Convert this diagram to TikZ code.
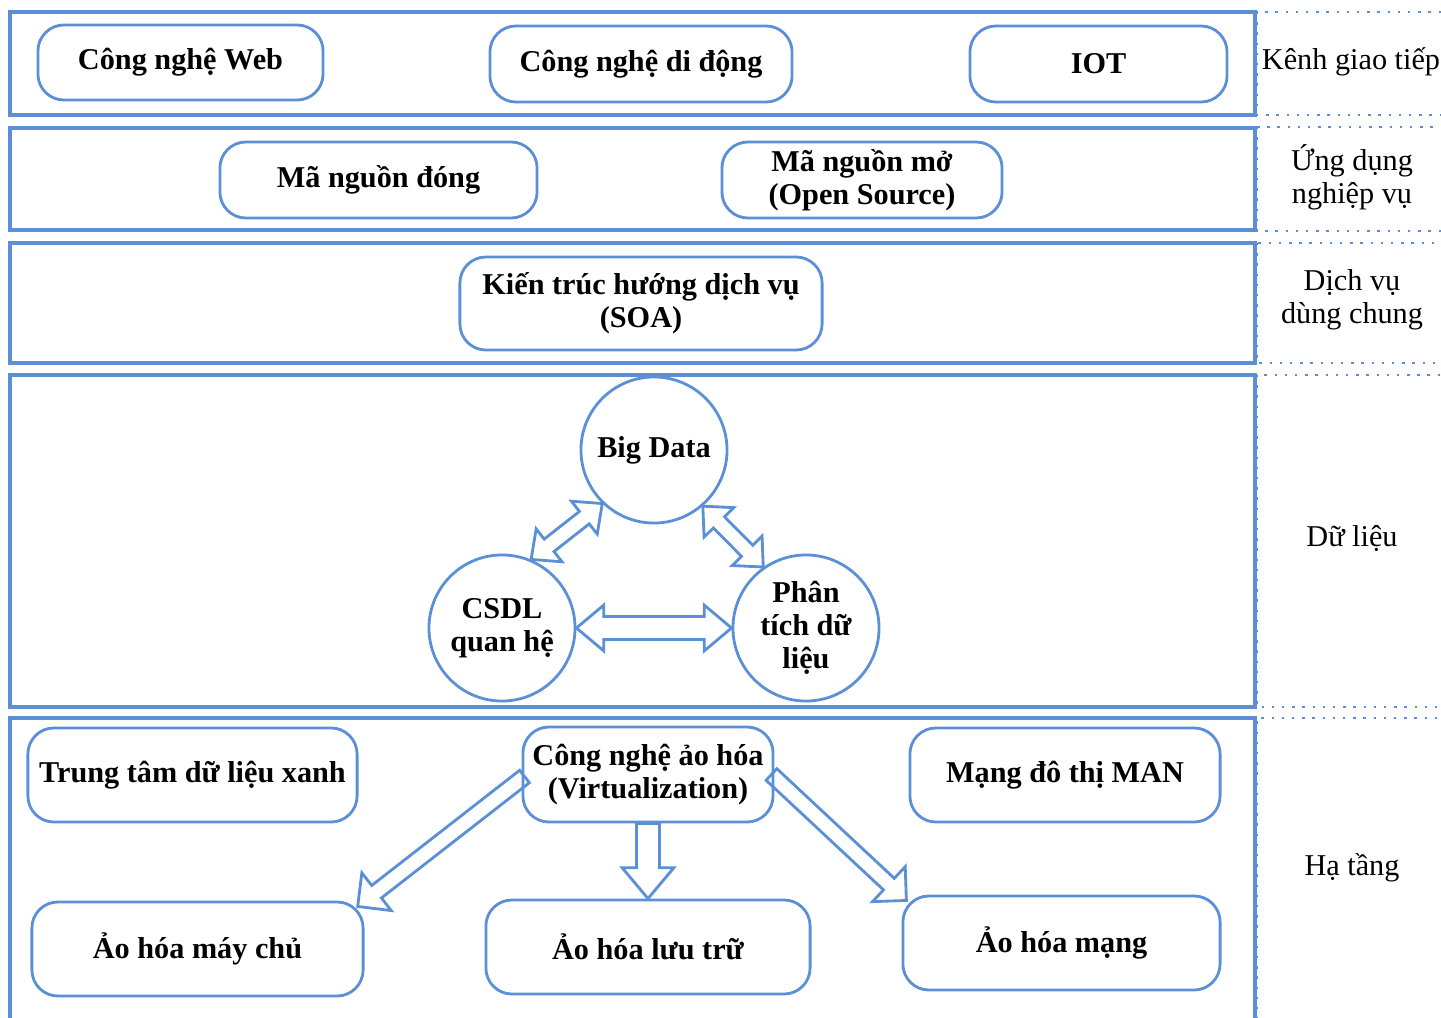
\documentclass[tikz,border=0pt]{standalone}
\usepackage{fontspec}
\setmainfont{Liberation Serif}
\usetikzlibrary{shapes.arrows,calc}
\definecolor{lineblue}{RGB}{91,143,214}
\tikzset{
  band/.style={draw=lineblue, line width=1.1pt},
  sidecol/.style={draw=lineblue, line width=0.7pt, dash pattern=on 0.7pt off 2.2pt},
  unit/.style={draw=lineblue, line width=0.8pt, rounded corners=0.26cm, align=center, inner sep=0pt,
    font=\fontsize{8.6}{9.4}\selectfont\bfseries},
  datanode/.style={draw=lineblue, line width=0.8pt, circle, minimum size=1.46cm, align=center, inner sep=0pt,
    font=\fontsize{8.6}{9.4}\selectfont\bfseries},
  layername/.style={align=center, font=\fontsize{8.6}{9.4}\selectfont},
  linkarrow/.style={single arrow, draw=lineblue, line width=0.8pt, inner xsep=0pt, inner ysep=0.1cm,
    outer sep=0pt, anchor=tail, single arrow head extend=0.145cm, single arrow tip angle=80},
  botharrow/.style={double arrow, draw=lineblue, line width=0.8pt, inner xsep=0pt, inner ysep=0.1cm,
    outer sep=0pt, anchor=tip 2, double arrow head extend=0.115cm, double arrow tip angle=80},
  slim/.style={inner ysep=0.065cm, single arrow head extend=0.16cm, single arrow tip angle=90,
    double arrow head extend=0.13cm, double arrow tip angle=85}
}
\newcommand{\joinarrow}[3]{%
  \path let \p1=(#2), \p2=(#3), \n1={atan2(\y2-\y1,\x2-\x1)}, \n2={veclen(\x2-\x1,\y2-\y1)} in
    node[#1, rotate=\n1, minimum height=\n2] at (\p1) {};}

\begin{document}
\begin{tikzpicture}[x=0.01cm, y=-0.01cm]
   \useasboundingbox (0,0) rectangle (1441,1018);
   \clip (0,0) rectangle (1441,1018);
   \draw[band] (10,12) rectangle (1255,115);
   \draw[band] (10,128) rectangle (1255,230);
   \draw[band] (10,243) rectangle (1255,363);
   \draw[band] (10,375) rectangle (1255,707);
   \draw[band] (10,1040) -- (10,718) -- (1255,718) -- (1255,1040);
   \draw[sidecol] (1257,12) rectangle (1450,115);
   \draw[sidecol] (1257,127) rectangle (1450,231);
   \draw[sidecol] (1257,243) rectangle (1450,363);
   \draw[sidecol] (1257,375) rectangle (1450,707);
   \draw[sidecol] (1257,1040) -- (1257,718) -- (1450,718);

   \node[layername] (lchannel) at (1351,62) {Kênh giao tiếp};
   \node[layername] (lapp) at (1352,177) {Ứng dụng\\nghiệp vụ};
   \node[layername] (lshared) at (1352,300) {Dịch vụ\\dùng chung};
   \node[layername] (ldata) at (1352,538) {Dữ liệu};
   \node[layername] (linfra) at (1352,868) {Hạ tầng};

   \node[unit, minimum width=2.85cm, minimum height=0.75cm] (web) at (180.5,62.5) {Công nghệ Web};
   \node[unit, minimum width=3.02cm, minimum height=0.76cm] (mobile) at (641,64) {Công nghệ di động};
   \node[unit, minimum width=2.57cm, minimum height=0.76cm] (iot) at (1098.5,64) {IOT};
   \node[unit, minimum width=3.17cm, minimum height=0.76cm] (closed) at (378.5,180) {Mã nguồn đóng};
   \node[unit, minimum width=2.80cm, minimum height=0.76cm] (opensrc) at (862,180) {Mã nguồn mở\\(Open Source)};
   \node[unit, minimum width=3.62cm, minimum height=0.93cm] (soa) at (641,303.5) {Kiến trúc hướng dịch vụ\\(SOA)};

   \node[datanode] (big) at (654,450) {Big Data};
   \node[datanode] (csdl) at (502,628) {CSDL\\quan hệ};
   \node[datanode] (analysis) at (806,628) {Phân\\tích dữ\\liệu};

   \node[unit, minimum width=3.29cm, minimum height=0.94cm] (green) at (192.5,775) {Trung tâm dữ liệu xanh};
   \node[unit, minimum width=2.50cm, minimum height=0.95cm] (virt) at (648,774.5) {Công nghệ ảo hóa\\(Virtualization)};
   \node[unit, minimum width=3.10cm, minimum height=0.94cm] (man) at (1065,775) {Mạng đô thị MAN};
   \node[unit, minimum width=3.31cm, minimum height=0.94cm] (server) at (197.5,949) {Ảo hóa máy chủ};
   \node[unit, minimum width=3.24cm, minimum height=0.94cm] (storage) at (648,947) {Ảo hóa lưu trữ};
   \node[unit, minimum width=3.17cm, minimum height=0.94cm] (network) at (1061.5,943) {Ảo hóa mạng};

   \joinarrow{botharrow, slim}{big.226}{csdl.67}
   \joinarrow{botharrow, slim}{big.311}{analysis.125}
   \joinarrow{botharrow}{csdl.east}{analysis.west}
   \joinarrow{linkarrow, slim}{$(virt.west)+(3,2)$}{$(server.north east)+(-7,6)$}
   \joinarrow{linkarrow}{virt.south}{storage.north}
   \joinarrow{linkarrow, slim}{$(virt.east)+(-3,0)$}{$(network.north west)+(5,6)$}
  \end{tikzpicture}
\end{document}
